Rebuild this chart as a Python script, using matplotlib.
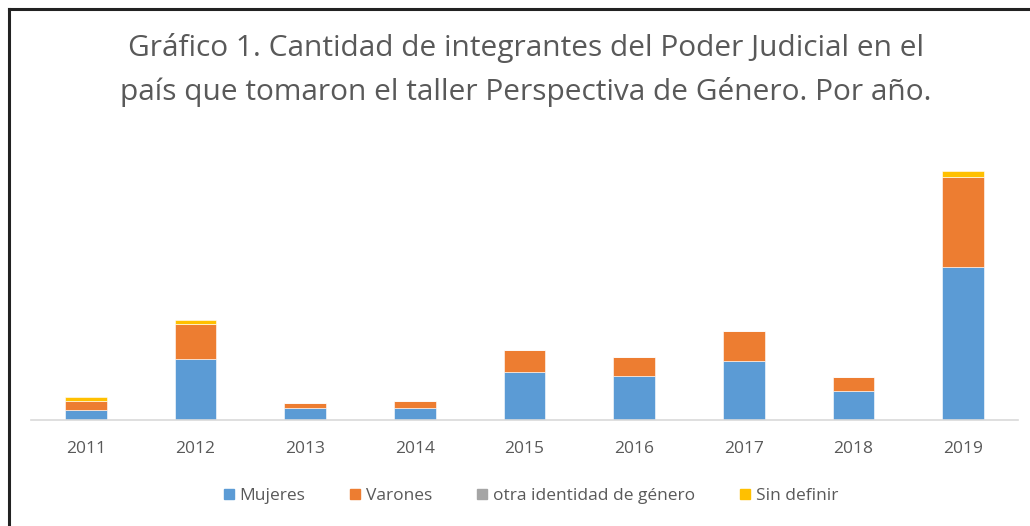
import numpy as np
import matplotlib

matplotlib.use("Agg")
import matplotlib.pyplot as plt
from matplotlib.lines import Line2D

years = ["2011", "2012", "2013", "2014", "2015", "2016", "2017", "2018", "2019"]
mujeres = [10, 61, 12, 12, 48.5, 44.5, 59.5, 29, 153]
varones = [9.3, 34.7, 5.3, 7, 22, 18.3, 29.3, 14, 90]
otra = [0, 0, 0, 0, 0, 0, 0, 0, 0]
sin_definir = [4, 4, 0, 0, 0, 0, 0, 0, 5.7]

series = [
    ("Mujeres", mujeres, "#5B9BD5"),
    ("Varones", varones, "#ED7D31"),
    ("otra identidad de género", otra, "#A5A5A5"),
    ("Sin definir", sin_definir, "#FFC000"),
]

FONT = ["Open Sans", "DejaVu Sans"]
TXT = "#595959"
W, H = 1030, 526

fig = plt.figure(figsize=(W / 100, H / 100), dpi=100)
fig.patch.set_facecolor("white")

# axes placed in pixel coordinates of the reference
x0, x1, yb, yt = 31, 1018, 420, 160
ax = fig.add_axes([x0 / W, 1 - yb / H, (x1 - x0) / W, (yb - yt) / H])
x = np.arange(len(years))
bottom = np.zeros(len(years))
handles = []
for name, vals, col in series:
    vals = np.array(vals, dtype=float)
    ax.bar(x, vals, width=0.38, bottom=bottom, color=col,
           edgecolor="white", linewidth=0.4)
    bottom += vals
    handles.append(Line2D([], [], marker="s", ls="", color=col,
                          markersize=7.5, label=name))

ax.set_xlim(-0.5, len(years) - 0.5)
ax.set_ylim(0, yb - yt)
for s in ("top", "right", "left"):
    ax.spines[s].set_visible(False)
ax.spines["bottom"].set_color("#D9D9D9")
ax.spines["bottom"].set_linewidth(1.2)
ax.set_yticks([])
ax.set_xticks(x)
ax.set_xticklabels(years, fontsize=12.5, color=TXT, family=FONT)
ax.tick_params(axis="x", length=0, pad=15)

fig.text(526 / W, 1 - 48 / H,
         "Gráfico 1. Cantidad de integrantes del Poder Judicial en el",
         ha="center", va="center", fontsize=21.5, color=TXT, family=FONT)
fig.text(526 / W, 1 - 92 / H,
         "país que tomaron el taller Perspectiva de Género. Por año.",
         ha="center", va="center", fontsize=21.5, color=TXT, family=FONT)

fig.legend(handles=handles, loc="center", bbox_to_anchor=(528 / W, 1 - 496 / H),
           ncol=4, frameon=False, handletextpad=0.0, columnspacing=2.3,
           handlelength=1.2, prop={"family": FONT, "size": 12.5},
           labelcolor=TXT)

# outer frame (left and top edges visible in the reference)
fig.add_artist(Line2D([9 / W, 9 / W], [0, 1 - 9 / H], color="#222222",
                      lw=2.2, transform=fig.transFigure))
fig.add_artist(Line2D([9 / W, 1], [1 - 9 / H, 1 - 9 / H], color="#222222",
                      lw=2.2, transform=fig.transFigure))

fig.savefig("out.png", dpi=100, facecolor="white")
